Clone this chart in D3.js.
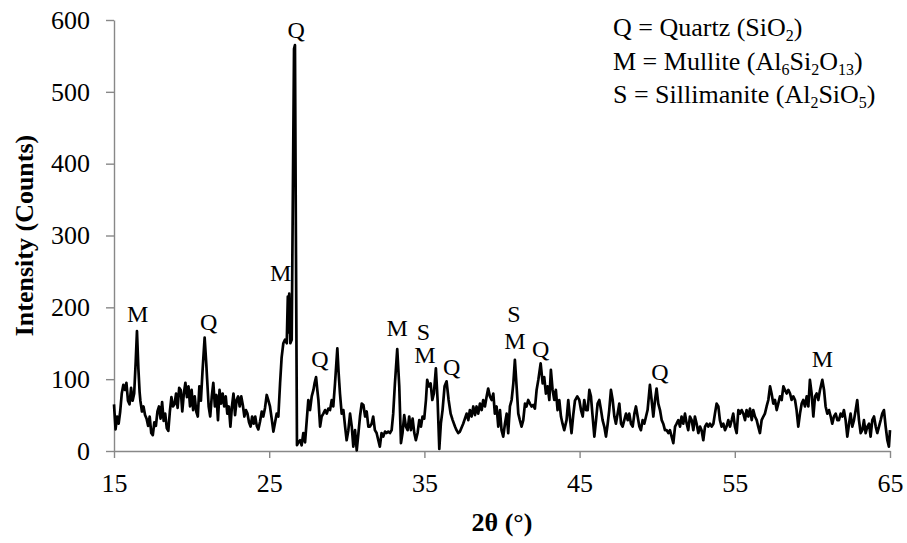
<!DOCTYPE html>
<html>
<head>
<meta charset="utf-8">
<script src="https://cdn.jsdelivr.net/npm/d3@7"></script>
<style>
  body { margin: 0; background: #fff; }
  svg { display: block; font-family: "Liberation Serif", serif; }
</style>
</head>
<body>
<svg id="chart" width="907" height="543"></svg>
<script>
// XRD scan, [2θ, counts]
const scanA = [
  [15.0,65],[15.1,30],[15.2,48],[15.3,38],[15.4,55],[15.5,80],[15.6,92],[15.7,85],[15.8,95],[15.9,70],
  [16.0,65],[16.1,88],[16.2,70],[16.3,80],[16.4,125],[16.48,167],[16.57,115],[16.65,82],[16.7,70],[16.8,55],[16.9,62],
  [17.0,50],[17.1,45],[17.2,35],[17.3,48],[17.4,25],[17.5,22],[17.6,40],[17.7,35],[17.8,55],[17.9,62],
  [18.0,45],[18.1,68],[18.2,42],[18.3,52],[18.4,32],[18.5,28],[18.6,55],[18.7,75],[18.8,62],[18.9,65],
  [19.0,80],[19.1,60],[19.2,88],[19.3,85],[19.4,55],[19.5,80],[19.6,95],[19.7,75],[19.8,90],[19.9,62],
  [20.0,85],[20.1,57],[20.2,76],[20.3,55],[20.4,48],[20.5,90],[20.6,70],[20.7,110],[20.84,158],[20.95,120],
  [21.0,100],[21.1,62],[21.2,48],[21.3,76],[21.4,95],[21.5,62],[21.6,78],[21.7,43],[21.8,85],[21.9,66],
  [22.0,80],[22.1,62],[22.2,76],[22.3,52],[22.4,62],[22.5,34],[22.6,62],[22.7,80],[22.8,50],[22.9,71],
  [23.0,76],[23.1,62],[23.2,76],[23.3,64],[23.4,48],[23.5,57],[23.6,52],[23.7,40],[23.8,34],[23.9,48],
  [24.0,38],[24.1,48],[24.2,35],[24.3,30]
];
const scanB = [
  [24.41,41],[24.52,55],[24.62,48],[24.73,60],[24.84,78],[24.95,70],[25.05,62],[25.16,45],[25.27,27],[25.38,40],
  [25.48,52],[25.59,48],[25.7,94],[25.8,130],[25.91,150],[26.02,155],[26.13,150],[26.2,215],[26.25,165],[26.29,219],
  [26.36,150],[26.45,155],[26.6,560],[26.66,565],[26.72,300],[26.79,8],[26.88,12],[26.99,15],[27.09,8],[27.2,25],
  [27.31,12],[27.42,43],[27.52,71],[27.63,57],[27.74,76],[27.85,85],[27.93,95],[28.02,103],[28.1,85],[28.17,71],
  [28.28,34],[28.38,48],[28.49,52],[28.6,57],[28.71,52],[28.81,59],[28.92,57],[29.03,71],[29.13,62],[29.24,94],
  [29.32,120],[29.39,143],[29.47,110],[29.56,80],[29.67,52],[29.78,57],[29.89,34],[29.99,15],[30.1,29],[30.21,52],
  [30.32,34],[30.42,6],[30.53,29],[30.64,1],[30.75,25],[30.85,48],[30.96,66],[31.07,64],[31.18,48],[31.28,55],
  [31.39,34]
];
const scanC = [
  [31.49,34],[31.6,38],[31.7,48],[31.81,29],[31.92,25],[32.03,15],[32.13,6],[32.24,25],[32.35,20],[32.46,27],
  [32.56,25],[32.67,27],[32.78,25],[32.89,29],[32.99,52],[33.1,94],[33.25,142],[33.38,90],[33.49,11],[33.59,25],
  [33.7,50],[33.81,34],[33.92,29],[34.02,48],[34.13,29],[34.24,45],[34.35,25],[34.45,15],[34.56,25],[34.67,43],
  [34.78,34],[34.88,48],[34.99,45],[35.1,71],[35.18,99],[35.29,90],[35.4,94],[35.51,71],[35.61,80],[35.74,115],
  [35.85,71],[35.96,3],[36.06,38],[36.17,57],[36.3,90],[36.43,97],[36.56,71],[36.69,52],[36.82,43],[36.97,34],
  [37.07,29],[37.18,25],[37.29,27],[37.5,38],[37.61,45],[37.72,52],[37.83,43],[37.93,57],[38.04,48],[38.15,62],
  [38.26,50],[38.36,62],[38.47,52],[38.58,66],[38.69,57],[38.79,71],[38.9,62],[39.01,76],[39.11,87],[39.22,76],
  [39.33,71],[39.44,80],[39.54,52],[39.65,62],[39.76,34],[39.87,57],[39.97,29],[40.08,20],[40.19,38],[40.3,52],
  [40.4,25],[40.51,62],[40.62,71],[40.73,94],[40.83,127],[40.94,90],[41.05,52],[41.15,43],[41.26,34],[41.37,43],
  [41.48,66],[41.58,62],[41.69,71],[41.8,66],[41.91,62],[42.01,64],[42.12,59],[42.23,85],[42.34,99],[42.49,122],
  [42.62,94],[42.72,103],[42.83,80],[42.94,90],[43.05,71],[43.15,113],[43.26,85],[43.37,71],[43.47,85],[43.58,57],
  [43.69,71],[43.8,48],[43.9,38],[44.01,29],[44.16,43],[44.27,71]
];
const scanD = [
  [44.38,45],[44.48,25],[44.59,50],[44.7,70],[44.85,76],[44.98,71],[45.09,57],[45.2,48],[45.3,71],[45.41,57],
  [45.52,57],[45.63,85],[45.73,76],[45.84,48],[45.95,20],[46.06,43],[46.16,66],[46.27,71],[46.38,57],[46.48,43],
  [46.59,34],[46.7,20],[46.81,38],[46.91,57],[47.02,85],[47.13,71],[47.24,48],[47.34,38],[47.45,52],[47.56,66],
  [47.67,38],[47.77,34],[47.88,43],[47.99,52],[48.1,43],[48.2,52],[48.31,38],[48.42,34],[48.53,52],[48.63,62],
  [48.74,48],[48.85,34],[48.95,29],[49.06,43],[49.17,38],[49.28,48],[49.38,57],[49.53,92],[49.64,71],[49.75,48],
  [49.86,71],[49.96,87],[50.07,66],[50.18,57],[50.29,43],[50.39,38],[50.5,29],[50.61,29],[50.72,25],[50.82,29],
  [50.93,20],[51.04,11],[51.15,34],[51.25,38],[51.36,43],[51.47,34],[51.57,48],[51.68,38],[51.79,52],[51.9,38],
  [52.0,29],[52.11,48],[52.22,43],[52.33,29],[52.43,48],[52.54,38],[52.65,25],[52.76,34],[52.86,29],[52.97,15],
  [53.08,34],[53.19,38],[53.29,34],[53.4,38],[53.51,34],[53.62,38],[53.72,52],[53.83,66],[53.94,62],[54.04,43],
  [54.15,34],[54.26,38],[54.37,29],[54.47,34],[54.58,43],[54.69,34],[54.8,43],[54.9,52],[55.01,34],[55.12,25],
  [55.23,57],[55.33,52],[55.44,57],[55.55,52],[55.66,43],[55.76,57],[55.87,48],[55.98,59],[56.09,43],[56.19,57],
  [56.3,48],[56.41,43],[56.51,34],[56.62,25],[56.73,43],[56.84,48],[56.94,52],[57.05,62],[57.16,71],[57.27,90],
  [57.37,80],[57.48,66],[57.59,71],[57.7,57],[57.8,66],[57.91,76],[58.02,71],[58.13,90],[58.23,85],[58.34,80],
  [58.45,85],[58.56,80],[58.66,71],[58.77,76],[58.88,71],[58.98,57],[59.09,34],[59.2,52],[59.31,66],[59.41,71],
  [59.52,62],[59.63,76],[59.74,62],[59.84,99],[59.95,80],[60.06,48],[60.17,76],[60.27,80],[60.38,71],[60.49,85],
  [60.64,99],[60.75,85],[60.85,62],[60.96,52],[61.07,57],[61.18,48],[61.28,38],[61.39,48],[61.5,52],[61.61,43],
  [61.71,43],[61.82,52],[61.93,48],[62.03,57],[62.14,43],[62.25,20],[62.36,38],[62.46,52],[62.57,34],[62.68,43],
  [62.79,57],[62.89,71],[63.0,43],[63.11,25],[63.22,29],[63.32,43],[63.43,25],[63.54,34],[63.65,38],[63.75,20],
  [63.86,43],[63.97,48],[64.08,34],[64.18,25],[64.29,34],[64.4,43],[64.5,52],[64.61,57],[64.72,34],[64.83,15],
  [64.93,6],[65.0,29]
];

const xTicks = [15, 25, 35, 45, 55, 65];
const yTicks = [0, 100, 200, 300, 400, 500, 600];

// phase marks above the peaks: letter, 2θ of label centre, counts level of baseline
const peakLabels = [
  ["M", 16.53, 180], ["Q", 21.1, 168], ["M", 25.74, 236], ["Q", 26.73, 575],
  ["Q", 28.27, 117], ["M", 33.25, 160], ["S", 34.93, 155], ["M", 35.04, 122],
  ["Q", 36.76, 106], ["S", 40.77, 180], ["M", 40.84, 142], ["Q", 42.49, 131],
  ["Q", 50.18, 99], ["M", 60.64, 117]
];

// legend rows: [text, subscript?] pieces
const legendRows = [
  [["Q = Quartz (SiO", false], ["2", true], [")", false]],
  [["M = Mullite (Al", false], ["6", true], ["Si", false], ["2", true], ["O", false], ["13", true], [")", false]],
  [["S = Sillimanite (Al", false], ["2", true], ["SiO", false], ["5", true], [")", false]]
];

const scan = scanA.concat(scanB, scanC, scanD);

const svg = d3.select("#chart");
const x = d3.scaleLinear().domain([15, 65]).range([114, 890]);
const y = d3.scaleLinear().domain([0, 600]).range([451, 20]);
const axisColor = "#888888";
const fontSize = 26;

// axes
const gx = svg.append("g")
  .attr("transform", "translate(0," + y(0) + ")")
  .call(d3.axisBottom(x).tickValues(xTicks).tickSize(7).tickSizeOuter(0).tickPadding(16));
const gy = svg.append("g")
  .attr("transform", "translate(" + x(15) + ",0)")
  .call(d3.axisLeft(y).tickValues(yTicks).tickSize(8).tickSizeOuter(0).tickPadding(16));

[gx, gy].forEach(g => {
  g.select(".domain").attr("stroke", axisColor).attr("stroke-width", 1.4);
  g.selectAll(".tick line").attr("stroke", axisColor).attr("stroke-width", 1.4);
  g.selectAll(".tick text")
    .attr("fill", "#000")
    .style("font-family", "'Liberation Serif', serif")
    .style("font-size", fontSize + "px");
});

// pattern line
const line = d3.line().x(d => x(d[0])).y(d => y(d[1]));
svg.append("path")
  .datum(scan)
  .attr("d", line)
  .attr("fill", "none")
  .attr("stroke", "#000")
  .attr("stroke-width", 2.7)
  .attr("stroke-linejoin", "round");

// peak letters
svg.append("g")
  .selectAll("text")
  .data(peakLabels)
  .enter()
  .append("text")
  .attr("x", d => x(d[1]))
  .attr("y", d => y(d[2]))
  .attr("text-anchor", "middle")
  .style("font-size", "24px")
  .text(d => d[0]);

// axis titles
svg.append("text")
  .attr("x", (x(15) + x(65)) / 2)
  .attr("y", 531)
  .attr("text-anchor", "middle")
  .style("font-size", fontSize + "px")
  .style("font-weight", "bold")
  .text("2θ (°)");

svg.append("text")
  .attr("transform", "translate(33," + (y(0) + y(600)) / 2 + ") rotate(-90)")
  .attr("text-anchor", "middle")
  .style("font-size", fontSize + "px")
  .style("font-weight", "bold")
  .text("Intensity (Counts)");

// legend
const legend = svg.append("g");
legendRows.forEach((row, i) => {
  const t = legend.append("text")
    .attr("x", 613)
    .attr("y", 36 + i * 33.5)
    .style("font-size", fontSize + "px");
  row.forEach((p, j) => {
    const prevSub = j > 0 ? row[j - 1][1] : false;
    const sp = t.append("tspan").text(p[0]);
    if (p[1]) sp.style("font-size", "16px");
    sp.attr("dy", p[1] && !prevSub ? 5 : (!p[1] && prevSub ? -5 : 0));
  });
});
</script>
</body>
</html>
